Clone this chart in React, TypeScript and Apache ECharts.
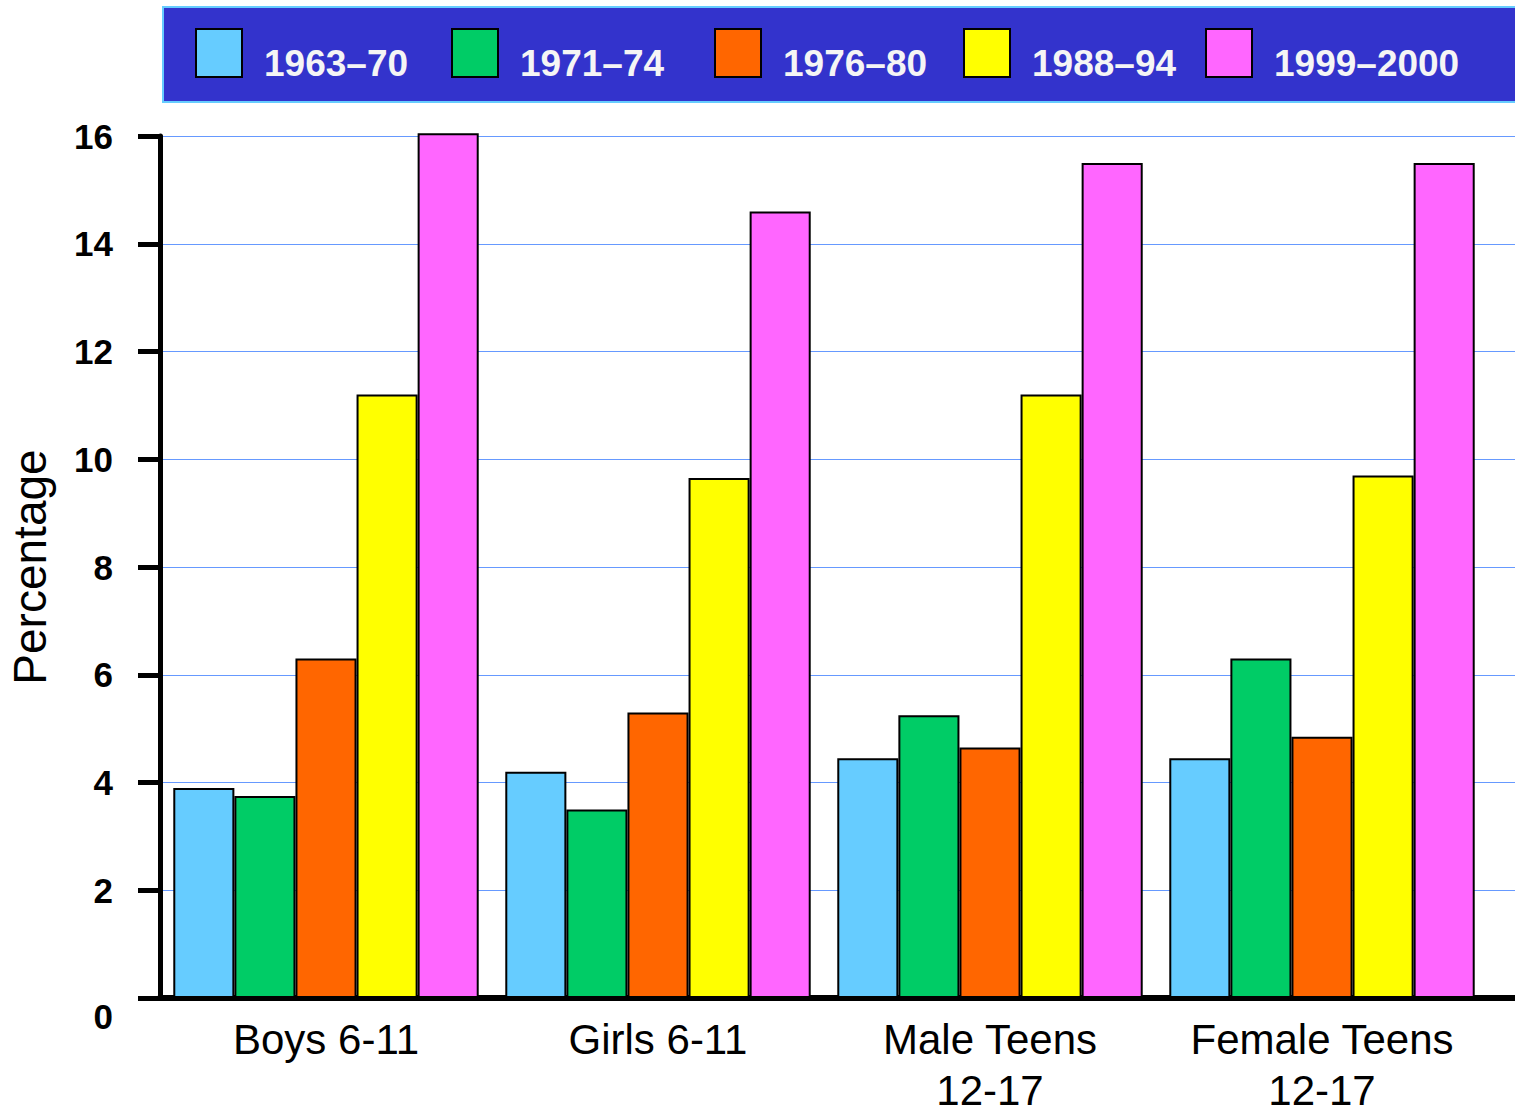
import React, { useEffect, useRef } from "react";
import * as echarts from "echarts";

const categories = ["Boys 6-11", "Girls 6-11", "Male Teens\n12-17", "Female Teens\n12-17"];
const periods = ["1963–70", "1971–74", "1976–80", "1988–94", "1999–2000"];
const colors = ["#66CCFF", "#00CC66", "#FF6600", "#FFFF00", "#FF66FF"];
const v1963 = [3.9, 4.2, 4.45, 4.45];
const v1971 = [3.75, 3.5, 5.25, 6.3];
const v1976 = [6.3, 5.3, 4.65, 4.85];
const v1988 = [11.2, 9.65, 11.2, 9.7];
const v1999 = [16.05, 14.6, 15.5, 15.5];
const seriesValues = [v1963, v1971, v1976, v1988, v1999];
const yMin = 0;
const yMax = 16;
const yInterval = 2;
const legendLefts = [195, 451, 714, 963, 1205];

const FONT = "'Liberation Sans', Arial, Helvetica, sans-serif";

export default function App() {
  const ref = useRef<HTMLDivElement>(null);
  useEffect(() => {
    if (!ref.current) return;
    const chart = echarts.init(ref.current, undefined, { renderer: "svg" });
    const option: any = {
      animation: false,
      backgroundColor: "#ffffff",
      textStyle: { fontFamily: FONT },
      graphic: [
        {
          type: "rect",
          z: 0,
          shape: { x: 163, y: 7, width: 1370, height: 95 },
          style: { fill: "#3333CC", stroke: "#66CCFF", lineWidth: 2 },
        },
      ],
      legend: periods.map((p, i) => ({
        data: [p],
        left: legendLefts[i],
        top: 28,
        padding: 0,
        z: 10,
        icon: "rect",
        itemWidth: 46,
        itemHeight: 48,
        selectedMode: false,
        formatter: "{a|{name}}",
        textStyle: {
          color: "#F5F5F5",
          fontSize: 37,
          fontWeight: "bold",
          fontFamily: FONT,
          rich: {
            a: {
              color: "#F5F5F5",
              fontSize: 37,
              fontWeight: "bold",
              fontFamily: FONT,
              lineHeight: 58,
              verticalAlign: "bottom",
              padding: [0, 0, 0, 17],
            },
          },
        },
      })),
      grid: [
        { left: 160, right: 27, top: 136, bottom: 113, outerBoundsMode: "none", containLabel: false },
        { left: 160, right: 0, top: 136, bottom: 113, outerBoundsMode: "none", containLabel: false },
      ],
      xAxis: [
        {
          type: "category",
          gridIndex: 0,
          data: categories,
          axisLine: { show: false },
          axisTick: { show: false },
          axisLabel: {
            interval: 0,
            color: "#000",
            fontSize: 42,
            lineHeight: 51,
            margin: 16,
            fontFamily: FONT,
          },
        },
        {
          type: "value",
          gridIndex: 1,
          min: 0,
          max: 1,
          axisLine: { show: true, lineStyle: { color: "#000", width: 6 } },
          axisTick: { show: false },
          axisLabel: { show: false },
          splitLine: { show: false },
        },
      ],
      yAxis: [
        {
          type: "value",
          gridIndex: 0,
          min: yMin,
          max: yMax,
          interval: yInterval,
          show: false,
          splitLine: { show: false },
        },
        {
          type: "value",
          gridIndex: 1,
          min: yMin,
          max: yMax,
          interval: yInterval,
          name: "Percentage",
          nameLocation: "middle",
          nameGap: 107,
          nameTextStyle: { color: "#000", fontSize: 46, fontFamily: FONT },
          axisLine: { show: true, lineStyle: { color: "#000", width: 5 } },
          axisTick: { show: true, length: 22, lineStyle: { color: "#000", width: 5 } },
          axisLabel: {
            color: "#000",
            fontSize: 35,
            fontWeight: "bold",
            margin: 47,
            fontFamily: FONT,
            formatter: (v: number) => (v === 0 ? "{z|0}" : "{n|" + v + "}"),
            rich: {
              z: { fontSize: 35, fontWeight: "bold", color: "#000", padding: [36, 0, 0, 0], fontFamily: FONT },
              n: { fontSize: 35, fontWeight: "bold", color: "#000", fontFamily: FONT },
            },
          },
          splitLine: { show: true, lineStyle: { color: "#6699FF", width: 1 } },
        },
      ],
      series: periods.map((p, i) => ({
        name: p,
        type: "bar",
        xAxisIndex: 0,
        yAxisIndex: 0,
        data: seriesValues[i],
        barGap: "0%",
        barCategoryGap: "8%",
        clip: false,
        z: 3,
        itemStyle: { color: colors[i], borderColor: "#000", borderWidth: 2 },
      })),
    };
    chart.setOption(option);
    return () => chart.dispose();
  }, []);
  return (
    <div
      ref={ref}
      style={{ position: "absolute", left: 0, top: 0, width: 1515, height: 1111 }}
    />
  );
}
